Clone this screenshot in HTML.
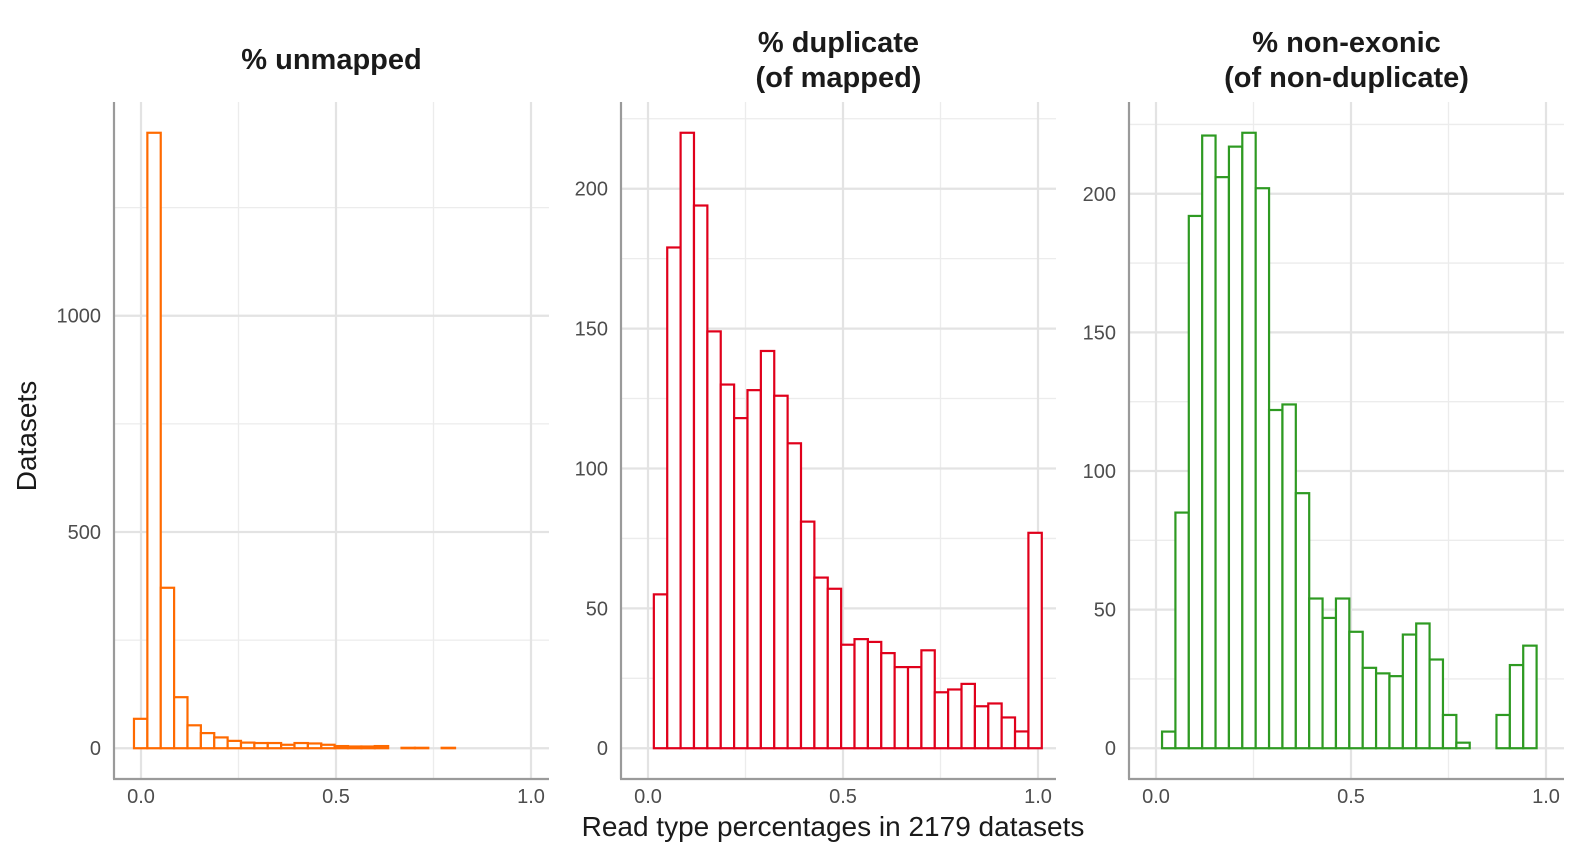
<!DOCTYPE html>
<html><head><meta charset="utf-8"><style>
html,body{margin:0;padding:0;background:#fff;}
svg{display:block;font-family:"Liberation Sans",Arial,sans-serif;}
</style></head><body>
<svg id="chart" width="1584" height="864" viewBox="0 0 1584 864"></svg>
<script>
const xTicks = [0, 0.5, 1.0];
const xTickLabels = ["0.0", "0.5", "1.0"];
const xMinor = [0.25, 0.75];
const unmappedCounts = [68,1423,371,118,53,35,25,17,13,12,12,8,12,11,8,5,4,4,5,0,1,1,0,1];
const duplicateCounts = [55,179,220,194,149,130,118,128,142,126,109,81,61,57,37,39,38,34,29,29,35,20,21,23,15,16,11,6,77];
const nonexonicCounts = [6,85,192,221,206,217,222,202,122,124,92,54,47,54,42,29,27,26,41,45,32,12,2,0,0,12,30,37,0];
const unmappedYTicks = [0,500,1000];
const unmappedYMinor = [250,750,1250];
const otherYTicks = [0,50,100,150,200];
const otherYMinor = [25,75,125,175,225];
const binWidth = 0.0343;

const NS = "http://www.w3.org/2000/svg";
const svg = document.getElementById('chart');
function mk(tag, attrs, parent){
  const e = document.createElementNS(NS, tag);
  for (const k in attrs) e.setAttribute(k, attrs[k]);
  (parent||svg).appendChild(e);
  return e;
}
const plotTop = 102, plotBottom = 779;

function panel(cfg){
  const g = mk('g', {});
  
  
  const axisX = cfg.left, right = cfg.left + 435;
  const x0 = axisX + 27;
  const xs = v => x0 + v*390;
  const maxV = Math.max(...cfg.counts);
  const lo = -0.05*maxV, hi = maxV*1.05;
  const ys = v => plotBottom - (v - lo)/(hi - lo)*(plotBottom - plotTop);
  cfg.yMinor.forEach(v => { const l = mk('line',{x1:axisX,x2:right,y1:ys(v),y2:ys(v),stroke:'#ececec','stroke-width':1.3},g);
      });
  xMinor.forEach(v => { const l = mk('line',{x1:xs(v),x2:xs(v),y1:plotTop,y2:plotBottom,stroke:'#ececec','stroke-width':1.3},g);
      });
  cfg.yTicks.forEach(v => { const l = mk('line',{x1:axisX,x2:right,y1:ys(v),y2:ys(v),stroke:'#e3e3e3','stroke-width':2.2},g);
     
    const t = mk('text',{x:axisX-13,y:ys(v)+7,'text-anchor':'end','font-size':20,fill:'#4d4d4d'},g);
    t.textContent = v;
      });
  xTicks.forEach((v,i) => { const l = mk('line',{x1:xs(v),x2:xs(v),y1:plotTop,y2:plotBottom,stroke:'#e3e3e3','stroke-width':2.2},g);
     
    const t = mk('text',{x:xs(v),y:803,'text-anchor':'middle','font-size':20,fill:'#4d4d4d'},g);
    t.textContent = xTickLabels[i];
      });
  cfg.counts.forEach((c,i) => {
    if (c <= 0) return;
    const a = xs(cfg.start + i*binWidth), b = xs(cfg.start + (i+1)*binWidth);
    const r = mk('rect',{x:a,y:ys(c),width:b-a,height:ys(0)-ys(c),fill:'#fff',stroke:cfg.color,'stroke-width':2.2},g);
     
  });
  const ax = mk('line',{x1:axisX,x2:axisX,y1:plotTop,y2:plotBottom,stroke:'#9a9a9a','stroke-width':2.2},g);
   
  const bx = mk('line',{x1:axisX-1,x2:right,y1:plotBottom,y2:plotBottom,stroke:'#9a9a9a','stroke-width':2.2},g);
   
  cfg.title.forEach((line,i) => {
    const t = mk('text',{x:(axisX+right)/2,y:cfg.titleY + i*35,'text-anchor':'middle','font-size':29,'font-weight':'bold',fill:'#1a1a1a'},g);
    t.textContent = line;
     
  });
}
panel({name:'panel-unmapped',left:114,counts:unmappedCounts,start:-0.018,color:'#ff6a00',yTicks:unmappedYTicks,yMinor:unmappedYMinor,title:['% unmapped'],titleY:69});
panel({name:'panel-duplicate',left:621,counts:duplicateCounts,start:0.015,color:'#e0001b',yTicks:otherYTicks,yMinor:otherYMinor,title:['% duplicate','(of mapped)'],titleY:52});
panel({name:'panel-non-exonic',left:1129,counts:nonexonicCounts,start:0.0155,color:'#2e9a22',yTicks:otherYTicks,yMinor:otherYMinor,title:['% non-exonic','(of non-duplicate)'],titleY:52});

const yl = mk('text',{x:0,y:0,transform:'translate(36,436) rotate(-90)','text-anchor':'middle','font-size':28,fill:'#1a1a1a'});
yl.textContent = 'Datasets';


const xl = mk('text',{x:833,y:836,'text-anchor':'middle','font-size':28,fill:'#1a1a1a'});
xl.textContent = 'Read type percentages in 2179 datasets';


</script>
</body></html>
